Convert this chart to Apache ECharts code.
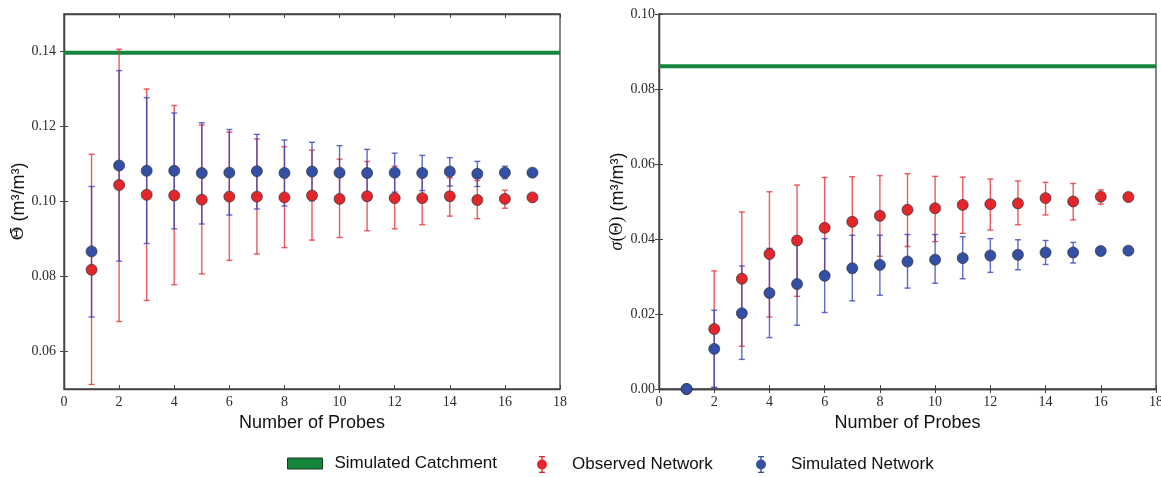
<!DOCTYPE html>
<html><head><meta charset="utf-8">
<script src="https://cdn.jsdelivr.net/npm/echarts@6/dist/echarts.min.js"></script>
<style>html,body{margin:0;padding:0;background:#fff}#c{width:1161px;height:477px}</style>
</head><body><div id="c"></div>
<script>
// ---- data ----
const probes = [1,2,3,4,5,6,7,8,9,10,11,12,13,14,15,16,17];

// left panel: mean soil moisture
const meanCatchment = 0.1397;
const meanObs     = [0.0818,0.1044,0.1018,0.1016,0.1005,0.1013,0.1013,0.1011,0.1016,0.1007,0.1014,0.1009,0.1009,0.1014,0.1004,0.1007,0.1011];
const meanObsLow  = [0.0512,0.0680,0.0736,0.0778,0.0807,0.0843,0.0860,0.0877,0.0897,0.0904,0.0922,0.0927,0.0938,0.0961,0.0954,0.0982,0.1011];
const meanObsHigh = [0.1126,0.1406,0.1300,0.1256,0.1204,0.1185,0.1167,0.1146,0.1137,0.1113,0.1107,0.1094,0.1080,0.1063,0.1056,0.1030,0.1011];
const meanSim     = [0.0867,0.1096,0.1082,0.1082,0.1076,0.1077,0.1081,0.1076,0.1080,0.1077,0.1076,0.1077,0.1076,0.1080,0.1074,0.1077,0.1077];
const meanSimLow  = [0.0692,0.0841,0.0888,0.0927,0.0940,0.0964,0.0980,0.0988,0.1002,0.1005,0.1013,0.1025,0.1029,0.1041,0.1040,0.1061,0.1077];
const meanSimHigh = [0.1040,0.1349,0.1277,0.1236,0.1210,0.1192,0.1179,0.1164,0.1158,0.1149,0.1139,0.1129,0.1123,0.1117,0.1107,0.1094,0.1077];

// right panel: standard deviation
const sdCatchment = 0.0861;
const sdObs     = [0,0.0160,0.0294,0.0360,0.0396,0.0430,0.0446,0.0462,0.0478,0.0482,0.0491,0.0493,0.0495,0.0509,0.0500,0.0513,0.0512];
const sdObsLow  = [0,0.0004,0.0114,0.0192,0.0247,0.0296,0.0325,0.0354,0.0380,0.0393,0.0415,0.0424,0.0438,0.0464,0.0451,0.0493,0.0512];
const sdObsHigh = [0,0.0315,0.0472,0.0526,0.0544,0.0564,0.0566,0.0569,0.0574,0.0567,0.0565,0.0560,0.0555,0.0551,0.0548,0.0531,0.0512];
const sdSim     = [0,0.0107,0.0202,0.0256,0.0280,0.0302,0.0322,0.0331,0.0340,0.0345,0.0349,0.0356,0.0358,0.0364,0.0364,0.0368,0.0369];
const sdSimLow  = [0,0.0004,0.0079,0.0137,0.0170,0.0204,0.0235,0.0250,0.0269,0.0282,0.0294,0.0311,0.0318,0.0332,0.0336,0.0360,0.0369];
const sdSimHigh = [0,0.0210,0.0328,0.0375,0.0390,0.0401,0.0410,0.0410,0.0412,0.0412,0.0406,0.0401,0.0398,0.0396,0.0391,0.0376,0.0369];

// axis ticks
const xRange = [0, 18];
const xStep = 2;
const meanRange = [0.05, 0.15];
const meanTicks = [0.06, 0.08, 0.10, 0.12, 0.14];
const sdRange = [0, 0.10];
const sdTicks = [0, 0.02, 0.04, 0.06, 0.08, 0.10];

// ---- styling ----
const RED = '#e3262b', BLUE = '#3450a6', GREEN = '#15853c';
const RED_BAR = 'rgba(230,45,50,0.78)', BLUE_BAR = 'rgba(50,65,185,0.78)';
const AX = '#444';
const SERIF = '"Liberation Serif", "DejaVu Serif", serif';
const SANS = '"Liberation Sans", Arial, sans-serif';

function errRender(color) {
  return function (params, api) {
    const x = api.value(0), lo = api.value(1), hi = api.value(2);
    const a = api.coord([x, hi]), b = api.coord([x, lo]);
    const cw = 3;
    const style = { stroke: color, lineWidth: 1.4 };
    return { type: 'group', children: [
      { type: 'line', shape: { x1: a[0], y1: a[1], x2: b[0], y2: b[1] }, style },
      { type: 'line', shape: { x1: a[0] - cw, y1: a[1], x2: a[0] + cw, y2: a[1] }, style },
      { type: 'line', shape: { x1: b[0] - cw, y1: b[1], x2: b[0] + cw, y2: b[1] }, style }
    ]};
  };
}
const zip2 = (a, b) => a.map((v, i) => [v, b[i]]);
const zip3 = (a, b, c) => a.map((v, i) => [v, b[i], c[i]]);

function xAxes(gi) {
  return [
    { gridIndex: gi, type: 'value', min: xRange[0], max: xRange[1], interval: xStep, position: 'bottom',
      name: 'Number of Probes', nameLocation: 'middle', nameGap: 17,
      nameTextStyle: { fontFamily: SANS, fontSize: 18, color: '#111' },
      axisLine: { lineStyle: { color: AX, width: 1.3 } },
      axisTick: { inside: true, length: 4, lineStyle: { color: AX } },
      axisLabel: { fontFamily: SERIF, fontSize: 14, color: '#2b2b2b', margin: 6 },
      splitLine: { show: false } },
    { gridIndex: gi, type: 'value', min: xRange[0], max: xRange[1], interval: xStep, position: 'top',
      axisLine: { lineStyle: { color: AX, width: 1.3 } },
      axisTick: { inside: true, length: 4, lineStyle: { color: AX } },
      axisLabel: { show: false }, splitLine: { show: false } }
  ];
}
function yAxes(gi, range, ticks, name, gap, margin, rich) {
  return [
    { gridIndex: gi, type: 'value', min: range[0], max: range[1], position: 'left',
      name: name, nameLocation: 'middle', nameGap: gap,
      nameTextStyle: { fontFamily: SANS, fontSize: 18, color: '#111', rich: rich },
      axisLine: { lineStyle: { color: AX, width: 1.3 } },
      axisTick: { inside: true, length: 4, lineStyle: { color: AX }, customValues: ticks },
      axisLabel: { fontFamily: SERIF, fontSize: 14, color: '#2b2b2b', margin: margin,
                   customValues: ticks, formatter: v => v.toFixed(2) },
      splitLine: { show: false } },
    { gridIndex: gi, type: 'value', min: range[0], max: range[1], position: 'right',
      axisLine: { show: true, lineStyle: { color: AX, width: 1.3 } },
      axisTick: { inside: true, length: 4, lineStyle: { color: AX }, customValues: ticks },
      axisLabel: { show: false }, splitLine: { show: false } }
  ];
}

function panelSeries(gi, catchVal, obs, obsLo, obsHi, sim, simLo, simHi) {
  const xi = gi * 2, yi = gi * 2;
  return [
    { name: 'Simulated Catchment', type: 'line', xAxisIndex: xi, yAxisIndex: yi,
      data: [[xRange[0], catchVal], [xRange[1], catchVal]], symbol: 'none',
      lineStyle: { color: GREEN, width: 4 }, itemStyle: { color: GREEN }, z: 1, silent: true },
    { name: 'Observed Network', type: 'custom', xAxisIndex: xi, yAxisIndex: yi,
      renderItem: errRender(RED_BAR), encode: { x: 0, y: [1, 2] },
      data: zip3(probes, obsLo, obsHi), z: 2, silent: true },
    { name: 'Simulated Network', type: 'custom', xAxisIndex: xi, yAxisIndex: yi,
      renderItem: errRender(BLUE_BAR), encode: { x: 0, y: [1, 2] },
      data: zip3(probes, simLo, simHi), z: 3, silent: true },
    { name: 'Observed Network', type: 'scatter', xAxisIndex: xi, yAxisIndex: yi,
      data: zip2(probes, obs), symbolSize: 11,
      itemStyle: { color: RED, borderColor: '#333', borderWidth: 0.7, opacity: 1 }, z: 4 },
    { name: 'Simulated Network', type: 'scatter', xAxisIndex: xi, yAxisIndex: yi,
      data: zip2(probes, sim), symbolSize: 11,
      itemStyle: { color: BLUE, borderColor: '#333', borderWidth: 0.7, opacity: 1 }, z: 5 }
  ];
}

const markerIcon = 'path://M3,0H9V1.2H6.7V4H5.3V1.2H3Z M5.3,13H6.7V15.8H9V17H3V15.8H5.3Z M1,8.5A5,5,0,1,1,11,8.5A5,5,0,1,1,1,8.5Z';

const option = {
  backgroundColor: '#fff',
  animation: false,
  grid: [
    { left: 64, top: 14, width: 496, height: 375, outerBoundsMode: 'none', containLabel: false,
      show: true, borderColor: AX, borderWidth: 1.3, backgroundColor: 'transparent' },
    { left: 659, top: 14, width: 497, height: 375, outerBoundsMode: 'none', containLabel: false,
      show: true, borderColor: AX, borderWidth: 1.3, backgroundColor: 'transparent' }
  ],
  xAxis: [...xAxes(0), ...xAxes(1)],
  yAxis: [
    ...yAxes(0, meanRange, meanTicks, '{th|Θ\u0304} (m³/m³)', 36, 8,
             { th: { fontFamily: '"DejaVu Serif", serif', fontSize: 17, color: '#111' } }),
    ...yAxes(1, sdRange, sdTicks, '{sg|σ}{th|(Θ)} (m³/m³)', 32, 4,
             { sg: { fontFamily: SERIF, fontStyle: 'italic', fontSize: 18, color: '#111' },
               th: { fontFamily: SERIF, fontSize: 18, color: '#111' } })
  ],
  legend: [
    { left: 287, top: 455, padding: 0, itemWidth: 35, itemHeight: 11, selectedMode: false,
      textStyle: { fontFamily: SANS, fontSize: 17, color: '#111', padding: [0, 0, 0, 7] },
      data: [{ name: 'Simulated Catchment', icon: 'rect',
               itemStyle: { color: GREEN, borderColor: '#1f3a25', borderWidth: 1 } }] },
    { left: 537, top: 456, padding: 0, itemWidth: 12, itemHeight: 17, selectedMode: false,
      textStyle: { fontFamily: SANS, fontSize: 17, color: '#111', padding: [0, 0, 0, 19] },
      data: [{ name: 'Observed Network', icon: markerIcon,
               itemStyle: { color: RED, borderWidth: 0 } }] },
    { left: 756, top: 456, padding: 0, itemWidth: 12, itemHeight: 17, selectedMode: false,
      textStyle: { fontFamily: SANS, fontSize: 17, color: '#111', padding: [0, 0, 0, 19] },
      data: [{ name: 'Simulated Network', icon: markerIcon,
               itemStyle: { color: BLUE, borderWidth: 0 } }] }
  ],
  series: [
    ...panelSeries(0, meanCatchment, meanObs, meanObsLow, meanObsHigh, meanSim, meanSimLow, meanSimHigh),
    ...panelSeries(1, sdCatchment, sdObs, sdObsLow, sdObsHigh, sdSim, sdSimLow, sdSimHigh)
  ]
};
// second panel series use the second grid's axes
option.series.slice(5).forEach(s => { s.xAxisIndex = 2; s.yAxisIndex = 2; });

const chart = echarts.init(document.getElementById('c'), null, { renderer: 'canvas' });
chart.setOption(option);
</script>
</body></html>
